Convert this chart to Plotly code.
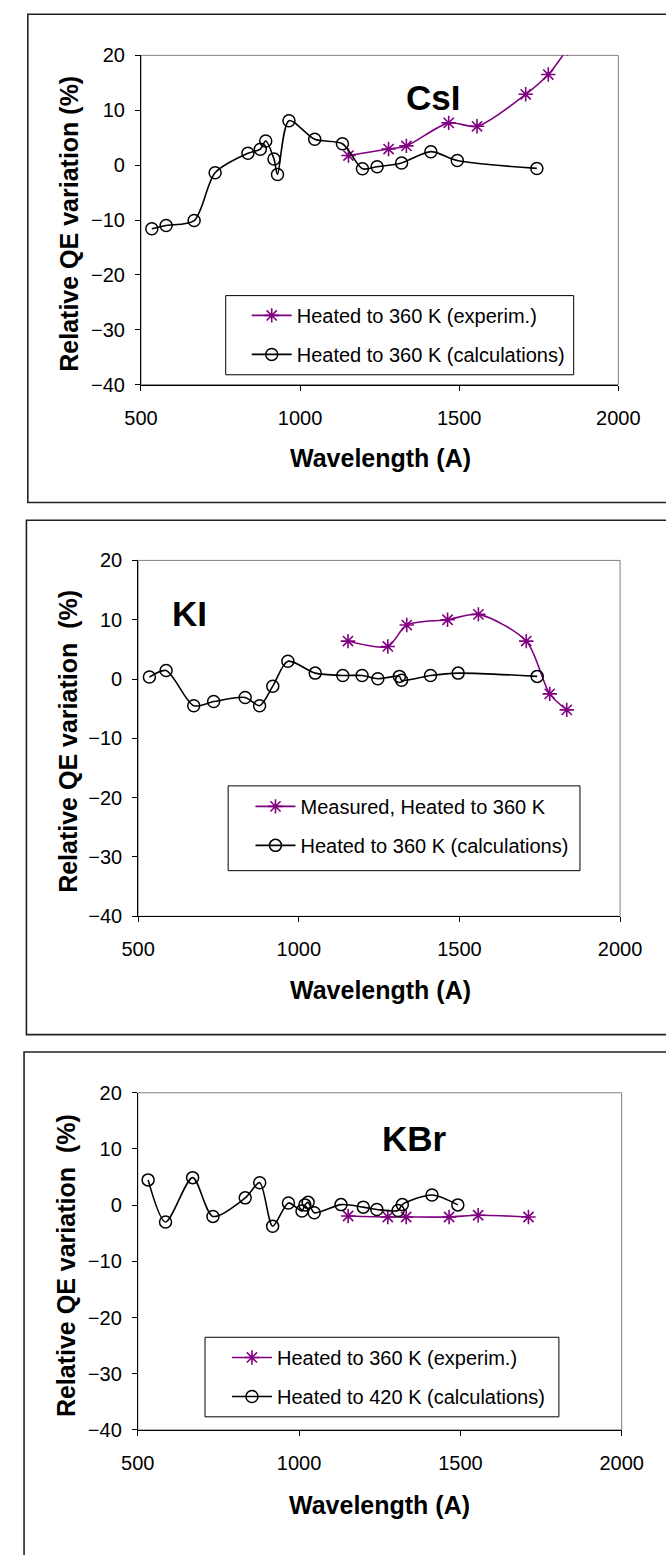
import plotly.graph_objects as go

W, H = 666, 1555
FONT = "Liberation Sans, Arial, sans-serif"
PURPLE = "#800080"

# ---------------- data ----------------
# CsI
csi_calc_x = [534, 579, 667, 733, 836, 875, 892, 918, 929, 965, 1046, 1133, 1196, 1242, 1319, 1411, 1494, 1744]
csi_calc_y = [-11.6, -11.0, -10.1, -1.4, 2.15, 2.9, 4.4, 1.1, -1.7, 8.1, 4.7, 3.9, -0.66, -0.3, 0.4, 2.45, 0.84, -0.6]
csi_exp_x = [1152, 1278, 1334, 1467, 1556, 1709, 1780, 1840]
csi_exp_y = [1.74, 2.93, 3.5, 7.7, 7.07, 12.9, 16.5, 21.2]

# KI
ki_calc_x = [535, 587, 673, 735, 833, 878, 919, 966, 1051, 1137, 1197, 1246, 1313, 1320, 1410, 1496, 1742]
ki_calc_y = [0.33, 1.44, -4.5, -3.8, -3.1, -4.5, -1.2, 3.0, 1.0, 0.6, 0.6, 0.06, 0.45, -0.2, 0.6, 1.0, 0.45]
ki_exp_x = [1153, 1277, 1336, 1463, 1559, 1708, 1781, 1834]
ki_exp_y = [6.4, 5.5, 9.1, 10.0, 10.9, 6.4, -2.5, -5.2]

# KBr
kbr_calc_x = [532, 586, 670, 733, 833, 878, 918, 967, 1009, 1018, 1028, 1047, 1130, 1199, 1241, 1307, 1320, 1412, 1492]
kbr_calc_y = [4.5, -3.0, 4.9, -2.0, 1.3, 4.0, -3.75, 0.4, -1.05, 0.05, 0.5, -1.35, 0.1, -0.35, -0.77, -0.94, 0.1, 1.8, 0.05]
kbr_exp_x = [1152, 1275, 1332, 1465, 1555, 1711]
kbr_exp_y = [-1.93, -2.1, -2.1, -2.1, -1.8, -2.1]

x_ticks = [500, 1000, 1500, 2000]
y_ticks = [-40, -30, -20, -10, 0, 10, 20]

labels = ["CsI", "KI", "KBr"]
exp_names = ["Heated to 360 K (experim.)", "Measured, Heated to 360 K", "Heated to 360 K (experim.)"]
calc_names = ["Heated to 360 K (calculations)", "Heated to 360 K (calculations)", "Heated to 420 K (calculations)"]
y_titles = ["Relative QE variation (%)", "Relative QE variation \u00a0(%)", "Relative QE variation \u00a0(%)"]
x_title = "Wavelength (A)"

# ---------------- layout geometry (pixels) ----------------
panels = [
    dict(plot=(131.7, 45, 638.7, 379), frame=(11.5, 3.3, 700, 498.5),
         legbox=(221.7, 288.7, 591.3, 369), leg=(244, 289),
         xt=(386.6, 453), yt=(55, 216), lab=(442, 88)),
    dict(plot=(128.7, 557.3, 640.6, 918.3), frame=(10, 516.5, 700, 1038.3),
         legbox=(224.3, 786, 598, 872), leg=(248, 787),
         xt=(386.6, 992.7), yt=(54, 740.5), lab=(183.5, 611)),
    dict(plot=(128.3, 1097.3, 642.3, 1439.3), frame=(7.5, 1056, 700, 1600),
         legbox=(199.7, 1345.3, 575.6, 1426), leg=(223, 1346),
         xt=(385.5, 1515), yt=(52.7, 1272.5), lab=(421.8, 1144)),
]

def fx(x):
    return x / W

def fy(y):
    return 1 - y / H

data_sets = [
    (csi_exp_x, csi_exp_y, csi_calc_x, csi_calc_y),
    (ki_exp_x, ki_exp_y, ki_calc_x, ki_calc_y),
    (kbr_exp_x, kbr_exp_y, kbr_calc_x, kbr_calc_y),
]

fig = go.Figure()
shapes = []
annotations = []
layout = dict(
    width=W, height=H, margin=dict(l=0, r=0, t=0, b=0),
    paper_bgcolor="white", plot_bgcolor="white", showlegend=True,
    font=dict(family=FONT, color="black"),
)

for i, (p, (ex, ey, cx, cy)) in enumerate(zip(panels, data_sets)):
    n = "" if i == 0 else str(i + 1)
    xa, ya = "x" + n, "y" + n
    leg = "legend" + n
    x0, y0, x1, y1 = p["plot"]

    fig.add_trace(go.Scatter(
        x=ex, y=ey, xaxis=xa, yaxis=ya, mode="lines+markers", name=exp_names[i],
        line=dict(color=PURPLE, width=1.6, shape="spline", smoothing=0.8),
        marker=dict(symbol="asterisk-open", size=12, color=PURPLE, line=dict(color=PURPLE, width=1.6)),
        legend=leg, legendgroup="e" + n,
    ))
    fig.add_trace(go.Scatter(
        x=cx, y=cy, xaxis=xa, yaxis=ya, mode="lines+markers", name=calc_names[i],
        line=dict(color="black", width=1.6, shape="spline", smoothing=0.8),
        marker=dict(symbol="circle-open", size=12, color="black", line=dict(color="black", width=1.5)),
        legend=leg, legendgroup="c" + n,
    ))

    layout["xaxis" + n] = dict(
        domain=[fx(x0), fx(x1)], anchor=ya, range=[500, 2000], tickvals=x_ticks,
        showgrid=False, zeroline=False, showline=True, linecolor="black", linewidth=1,
        ticks="outside", ticklen=5, tickcolor="black", ticklabelstandoff=10,
        tickfont=dict(family=FONT, size=20, color="black"),
    )
    layout["yaxis" + n] = dict(
        domain=[fy(y1), fy(y0)], anchor=xa, range=[-40, 20], tickvals=y_ticks,
        showgrid=False, zeroline=False, showline=True, linecolor="black", linewidth=1,
        ticks="outside", ticklen=5, tickcolor="black", ticklabelstandoff=6,
        tickfont=dict(family=FONT, size=20, color="black"),
    )
    lx, ly = p["leg"]
    layout[leg] = dict(
        x=fx(lx), y=fy(ly), xanchor="left", yanchor="top", xref="paper", yref="paper",
        bgcolor="rgba(0,0,0,0)", borderwidth=0, tracegroupgap=10, itemwidth=40,
        font=dict(family=FONT, size=20, color="black"),
    )

    # plot-area border (grey), outer chart frame, legend box
    shapes.append(dict(type="rect", xref=xa + " domain", yref=ya + " domain", x0=0, y0=0, x1=1, y1=1,
                       line=dict(color="#808080", width=1), layer="below"))
    fx0, fy0, fx1, fy1 = p["frame"]
    shapes.append(dict(type="rect", xref="paper", yref="paper", x0=fx(fx0), y0=fy(fy1), x1=fx(fx1), y1=fy(fy0),
                       line=dict(color="#222222", width=1.6), layer="below"))
    bx0, by0, bx1, by1 = p["legbox"]
    shapes.append(dict(type="rect", xref="paper", yref="paper", x0=fx(bx0), y0=fy(by1), x1=fx(bx1), y1=fy(by0),
                       line=dict(color="black", width=1), fillcolor="white", layer="above"))

    tx, ty = p["xt"]
    annotations.append(dict(x=fx(tx), y=fy(ty), xref="paper", yref="paper", text=x_title, showarrow=False,
                            xanchor="center", yanchor="middle",
                            font=dict(family=FONT, size=25, color="black", weight="bold")))
    tx, ty = p["yt"]
    annotations.append(dict(x=fx(tx), y=fy(ty), xref="paper", yref="paper", text=y_titles[i], showarrow=False,
                            textangle=-90, xanchor="center", yanchor="middle",
                            font=dict(family=FONT, size=25, color="black", weight="bold")))
    tx, ty = p["lab"]
    annotations.append(dict(x=fx(tx), y=fy(ty), xref="paper", yref="paper", text=labels[i], showarrow=False,
                            xanchor="center", yanchor="middle",
                            font=dict(family=FONT, size=35, color="black", weight="bold")))

layout["shapes"] = shapes
layout["annotations"] = annotations
fig.update_layout(**layout)
fig.write_html("out.html")
